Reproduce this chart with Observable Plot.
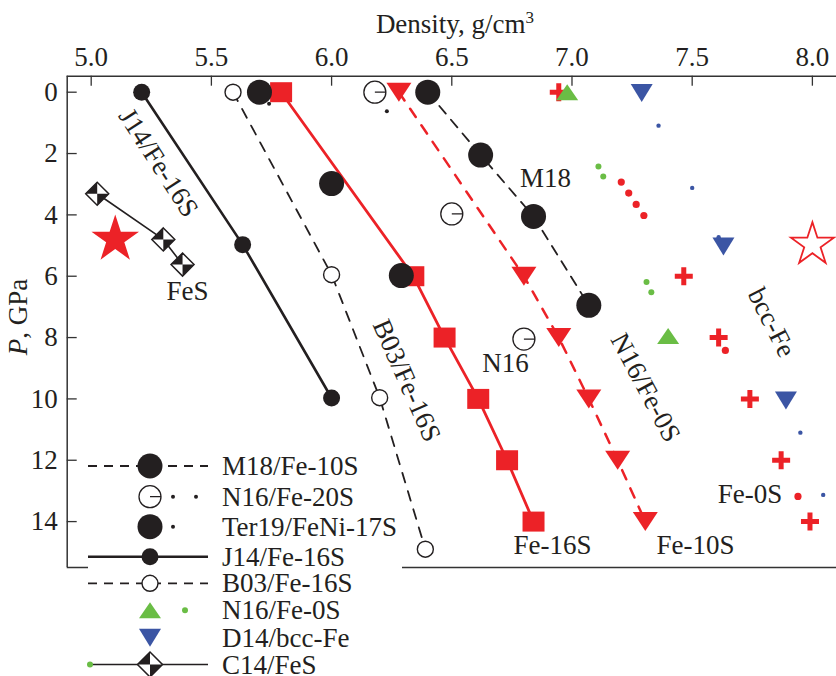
<!DOCTYPE html>
<html><head><meta charset="utf-8">
<script src="https://cdn.jsdelivr.net/npm/d3@7"></script>
<script src="https://cdn.jsdelivr.net/npm/@observablehq/plot@0.6"></script>
<style>
html,body{margin:0;padding:0;background:#fff;overflow:hidden}
#wrap{position:relative;width:836px;height:676px}
#wrap svg{position:absolute;left:0;top:0}
</style></head><body><div id="wrap"></div>
<script>
// ---- axis ticks ----
const xTicks = [5.0, 5.5, 6.0, 6.5, 7.0, 7.5, 8.0];
const yTicks = [0, 2, 4, 6, 8, 10, 12, 14];

// ---- series (density g/cm3, pressure GPa) ----
// M18/Fe-10S
const m18X = [6.40, 6.62, 6.84, 7.07];
const m18P = [0, 2.05, 4.05, 6.95];
// N16/Fe-20S (experiment + calculation dot)
const n16sX = [6.18, 6.50, 6.80];
const n16sP = [0, 3.97, 8.05];
const n16sCalcX = [6.23];
const n16sCalcP = [0.62];
// Ter19/FeNi-17S
const ter19X = [5.70, 6.00, 6.29];
const ter19P = [0, 2.98, 5.98];
const ter19CalcX = [5.74];
const ter19CalcP = [0.38];
// J14/Fe-16S
const j14X = [5.21, 5.63, 6.00];
const j14P = [0, 4.97, 9.97];
// B03/Fe-16S
const b03X = [5.59, 6.00, 6.20, 6.39];
const b03P = [0, 5.95, 9.96, 14.9];
// Fe-16S (red squares)
const fe16X = [5.79, 6.34, 6.47, 6.61, 6.73, 6.84];
const fe16P = [0, 6, 8, 10, 12, 14];
// Fe-10S (red down triangles)
const fe10X = [6.28, 6.80, 6.945, 7.07, 7.19, 7.305];
const fe10P = [0, 6, 8, 10, 12, 14];
// Fe-0S (red crosses + red dots)
const fe0X = [6.945, 7.465, 7.61, 7.74, 7.87, 7.99];
const fe0P = [0, 6, 8, 10, 12, 14];
const fe0DotX = [7.205, 7.236, 7.267, 7.299, 7.638, 7.94];
const fe0DotP = [2.93, 3.29, 3.66, 4.02, 8.42, 13.18];
// N16/Fe-0S (green)
const n16feX = [6.98, 7.40];
const n16feP = [0, 7.95];
const n16feCalcX = [7.11, 7.13, 7.31, 7.33];
const n16feCalcP = [2.42, 2.75, 6.19, 6.52];
// D14/bcc-Fe (blue)
const d14X = [7.29, 7.63, 7.89];
const d14P = [0.03, 5.03, 10.05];
const d14CalcX = [7.36, 7.50, 7.61, 7.95, 8.045];
const d14CalcP = [1.09, 3.12, 4.73, 11.1, 13.13];
// C14/FeS
const c14X = [5.025, 5.30, 5.38];
const c14P = [3.31, 4.80, 5.62];
// stars
const starFilledX = [5.10], starFilledP = [4.80];
const starOpenX = [8.00], starOpenP = [4.97];

// ---- annotations ----
const annText = ["M18", "N16", "FeS", "Fe-16S", "Fe-10S", "J14/Fe-16S", "B03/Fe-16S", "N16/Fe-0S", "bcc-Fe"];
const annX = [6.890, 6.723, 5.401, 6.919, 7.514, 5.280, 6.312, 7.306, 7.830];
const annP = [2.81, 8.85, 6.50, 14.78, 14.78, 2.30, 9.40, 9.63, 7.51];
const annRot = [0, 0, 0, 0, 0, 57, 66, 62, 63];
const fe0Label = ["Fe-0S"], fe0LabelX = [7.875], fe0LabelP = [13.12];

// ---- legend ----
const legendLabels = ["M18/Fe-10S", "N16/Fe-20S", "Ter19/FeNi-17S", "J14/Fe-16S", "B03/Fe-16S", "N16/Fe-0S", "D14/bcc-Fe", "C14/FeS"];

const INK = "#231f20", RED = "#ec2227", GREEN = "#6abd45", BLUE = "#3b55a4";
const FONT = "'Liberation Serif', 'Times New Roman', serif";

const rows = (xs, ps) => xs.map((x, i) => ({x, p: ps[i]}));
const sym = fn => ({draw(c) { fn(c); }});
const downTri = (w, h) => sym(c => { c.moveTo(-w/2, -h/2); c.lineTo(w/2, -h/2); c.lineTo(0, h/2); c.closePath(); });
const upTri = (w, h) => sym(c => { c.moveTo(-w/2, h/2); c.lineTo(w/2, h/2); c.lineTo(0, -h/2); c.closePath(); });
const rectSym = (w, h) => sym(c => { c.rect(-w/2, -h/2, w, h); });
const crossSym = (L, t) => sym(c => {
  const a = L/2, b = t/2;
  c.moveTo(-a, -b); c.lineTo(-b, -b); c.lineTo(-b, -a); c.lineTo(b, -a); c.lineTo(b, -b); c.lineTo(a, -b);
  c.lineTo(a, b); c.lineTo(b, b); c.lineTo(b, a); c.lineTo(-b, a); c.lineTo(-b, b); c.lineTo(-a, b); c.closePath();
});
const halfCircle = r => sym(c => { c.moveTo(r, 0); c.arc(0, 0, r, 0, 2 * Math.PI); c.moveTo(0, 0); c.lineTo(r, 0); });
const starSym = R => sym(c => {
  const r = R * 0.382;
  for (let i = 0; i < 10; i++) {
    const a = -Math.PI / 2 + i * Math.PI / 5, rr = i % 2 ? r : R;
    const px = rr * Math.cos(a), py = rr * Math.sin(a);
    i ? c.lineTo(px, py) : c.moveTo(px, py);
  }
  c.closePath();
});
const diamondSym = s => sym(c => { c.moveTo(0, -s); c.lineTo(s, 0); c.lineTo(0, s); c.lineTo(-s, 0); c.closePath(); });
const diamondBlack = s => sym(c => {
  c.moveTo(0, 0); c.lineTo(-s, 0); c.lineTo(0, -s); c.closePath();
  c.moveTo(0, 0); c.lineTo(s, 0); c.lineTo(0, s); c.closePath();
});

const xDom = [4.9002, 8.1003], yDom = [-0.5217, 15.497];
const innerH = 676 - 109 - 75.7, innerW = 836 - 66.7;

const plot = Plot.plot({
  width: 836, height: 676,
  marginLeft: 66.7, marginRight: 0, marginTop: 75.7, marginBottom: 109,
  x: {domain: xDom},
  y: {domain: yDom, reverse: true},
  style: {fontFamily: FONT, fontSize: "27px", color: INK, background: "white", overflow: "visible"},
  marks: [
    // frame
    Plot.ruleY([yDom[0], yDom[1]], {stroke: "#333", strokeWidth: 1.5}),
    Plot.ruleX([xDom[0]], {stroke: "#333", strokeWidth: 1.5}),
    Plot.ruleX(xTicks, {stroke: "#333", strokeWidth: 1.3, insetBottom: innerH - 10}),
    Plot.ruleY(yTicks, {stroke: "#333", strokeWidth: 1.3, insetRight: innerW - 10}),
    Plot.axisX(xTicks, {anchor: "top", tickSize: 0, tickPadding: 10, tickFormat: d => d.toFixed(1), label: null}),
    Plot.axisY(yTicks, {anchor: "left", tickSize: 0, tickPadding: 9.5, label: null}),
    // lines
    Plot.line(rows(fe16X, fe16P), {x: "x", y: "p", stroke: RED, strokeWidth: 2.8}),
    Plot.line(rows(fe10X, fe10P), {x: "x", y: "p", stroke: RED, strokeWidth: 2.5, strokeDasharray: "10,10"}),
    Plot.line(rows(m18X, m18P), {x: "x", y: "p", stroke: INK, strokeWidth: 1.8, strokeDasharray: "10,8"}),
    Plot.line(rows(j14X, j14P), {x: "x", y: "p", stroke: INK, strokeWidth: 2.6}),
    Plot.line(rows(b03X, b03P), {x: "x", y: "p", stroke: INK, strokeWidth: 1.8, strokeDasharray: "10,9"}),
    Plot.line(rows(c14X, c14P), {x: "x", y: "p", stroke: INK, strokeWidth: 1.6}),
    // markers
    Plot.dot(rows(b03X, b03P), {x: "x", y: "p", r: 8, fill: "white", stroke: INK, strokeWidth: 1.4}),
    Plot.dot(rows(j14X, j14P), {x: "x", y: "p", r: 8.5, fill: INK, stroke: "none"}),
    Plot.dot(rows(fe16X, fe16P), {x: "x", y: "p", symbol: rectSym(22, 20), fill: RED, stroke: "none"}),
    Plot.dot(rows(ter19X, ter19P), {x: "x", y: "p", r: 12.5, fill: INK, stroke: "none"}),
    Plot.dot(rows(ter19CalcX, ter19CalcP), {x: "x", y: "p", r: 2, fill: INK, stroke: "none"}),
    Plot.dot(rows(m18X, m18P), {x: "x", y: "p", r: 12.5, fill: INK, stroke: "none"}),
    Plot.dot(rows(n16sX, n16sP), {x: "x", y: "p", symbol: halfCircle(11), fill: "white", stroke: INK, strokeWidth: 1.3}),
    Plot.dot(rows(n16sCalcX, n16sCalcP), {x: "x", y: "p", r: 2, fill: INK, stroke: "none"}),
    Plot.dot(rows(fe10X, fe10P), {x: "x", y: "p", symbol: downTri(25, 19), fill: RED, stroke: "none"}),
    Plot.dot(rows(fe0X, fe0P), {x: "x", y: "p", symbol: crossSym(18, 5), fill: RED, stroke: "none"}),
    Plot.dot(rows(fe0DotX, fe0DotP), {x: "x", y: "p", r: 3.6, fill: RED, stroke: "none"}),
    Plot.dot(rows(n16feX, n16feP), {x: "x", y: "p", symbol: upTri(22, 16), fill: GREEN, stroke: "none"}),
    Plot.dot(rows(n16feCalcX, n16feCalcP), {x: "x", y: "p", r: 3, fill: GREEN, stroke: "none"}),
    Plot.dot(rows(d14X, d14P), {x: "x", y: "p", symbol: downTri(22, 18), fill: BLUE, stroke: "none"}),
    Plot.dot(rows(d14CalcX, d14CalcP), {x: "x", y: "p", r: 2.2, fill: BLUE, stroke: "none"}),
    Plot.dot(rows(starFilledX, starFilledP), {x: "x", y: "p", symbol: starSym(25), fill: RED, stroke: "none"}),
    Plot.dot(rows(starOpenX, starOpenP), {x: "x", y: "p", symbol: starSym(22.5), fill: "white", stroke: RED, strokeWidth: 1.8}),
    Plot.dot(rows(c14X, c14P), {x: "x", y: "p", symbol: diamondSym(11.5), fill: "white", stroke: INK, strokeWidth: 1.5}),
    Plot.dot(rows(c14X, c14P), {x: "x", y: "p", symbol: diamondBlack(11.5), fill: INK, stroke: "none"}),
    // annotations
    Plot.text(annText.map((t, i) => ({t, x: annX[i], p: annP[i], r: annRot[i]})), {x: "x", y: "p", text: "t", rotate: "r", fill: INK, textAnchor: "middle", lineAnchor: "middle"}),
    Plot.text(fe0Label.map((t, i) => ({t, x: fe0LabelX[i], p: fe0LabelP[i]})), {x: "x", y: "p", text: "t", fill: INK, textAnchor: "end", lineAnchor: "middle"})
  ]
});
document.getElementById("wrap").appendChild(plot);

// ---- overlay: title, y label, legend ----
const ov = d3.create("svg").attr("width", 836).attr("height", 676)
  .style("pointer-events", "none").style("font-family", FONT).style("font-size", "27px").attr("fill", INK);
const title = ov.append("text").attr("x", 455).attr("y", 33).attr("text-anchor", "middle");
title.append("tspan").text("Density, g/cm");
title.append("tspan").attr("font-size", "17px").attr("dy", -10).text("3");
const yl = ov.append("text").attr("transform", "translate(27,317) rotate(-90)").attr("text-anchor", "middle");
yl.append("tspan").attr("font-style", "italic").text("P");
yl.append("tspan").text(", GPa");

ov.append("rect").attr("x", 88).attr("y", 560).attr("width", 314).attr("height", 116).attr("fill", "white");
const rowY = [466, 496.7, 526.7, 556.7, 583.3, 610.3, 637.7, 664.5];
const mx = 150;
const g = ov.append("g");
const pathOf = (s) => { const p = d3.path(); s.draw(p); return p.toString(); };
rowY.forEach((y, i) => {
  g.append("text").attr("x", 222).attr("y", y + 9).text(legendLabels[i]);
});
// M18
g.append("line").attr("x1", 88).attr("x2", 208).attr("y1", rowY[0]).attr("y2", rowY[0]).attr("stroke", INK).attr("stroke-width", 1.8).attr("stroke-dasharray", "9,7");
g.append("circle").attr("cx", mx).attr("cy", rowY[0]).attr("r", 12.5).attr("fill", INK);
// N16/Fe-20S
g.append("path").attr("transform", `translate(${mx},${rowY[1]})`).attr("d", pathOf(halfCircle(11))).attr("fill", "white").attr("stroke", INK).attr("stroke-width", 1.3);
[173, 196].forEach(x => g.append("circle").attr("cx", x).attr("cy", rowY[1]).attr("r", 2).attr("fill", INK));
// Ter19
g.append("circle").attr("cx", mx).attr("cy", rowY[2]).attr("r", 12.5).attr("fill", INK);
g.append("circle").attr("cx", 173).attr("cy", rowY[2]).attr("r", 2).attr("fill", INK);
// J14
g.append("line").attr("x1", 88).attr("x2", 208).attr("y1", rowY[3]).attr("y2", rowY[3]).attr("stroke", INK).attr("stroke-width", 2.6);
g.append("circle").attr("cx", mx).attr("cy", rowY[3]).attr("r", 8.5).attr("fill", INK);
// B03
g.append("line").attr("x1", 88).attr("x2", 208).attr("y1", rowY[4]).attr("y2", rowY[4]).attr("stroke", INK).attr("stroke-width", 1.8).attr("stroke-dasharray", "9,7");
g.append("circle").attr("cx", mx).attr("cy", rowY[4]).attr("r", 8).attr("fill", "white").attr("stroke", INK).attr("stroke-width", 1.4);
// N16/Fe-0S
g.append("path").attr("transform", `translate(${mx},${rowY[5]})`).attr("d", pathOf(upTri(22, 16))).attr("fill", GREEN);
g.append("circle").attr("cx", 185).attr("cy", rowY[5]).attr("r", 3).attr("fill", GREEN);
// D14
g.append("path").attr("transform", `translate(${mx},${rowY[6]})`).attr("d", pathOf(downTri(22, 18))).attr("fill", BLUE);
// C14
g.append("line").attr("x1", 88).attr("x2", 208).attr("y1", rowY[7]).attr("y2", rowY[7]).attr("stroke", INK).attr("stroke-width", 1.6);
g.append("circle").attr("cx", 90).attr("cy", rowY[7]).attr("r", 3).attr("fill", GREEN);
g.append("path").attr("transform", `translate(${mx},${rowY[7]})`).attr("d", pathOf(diamondSym(12.5))).attr("fill", "white").attr("stroke", INK).attr("stroke-width", 1.5);
g.append("path").attr("transform", `translate(${mx},${rowY[7]})`).attr("d", pathOf(diamondBlack(12.5))).attr("fill", INK);
document.getElementById("wrap").appendChild(ov.node());
</script>
</body></html>
